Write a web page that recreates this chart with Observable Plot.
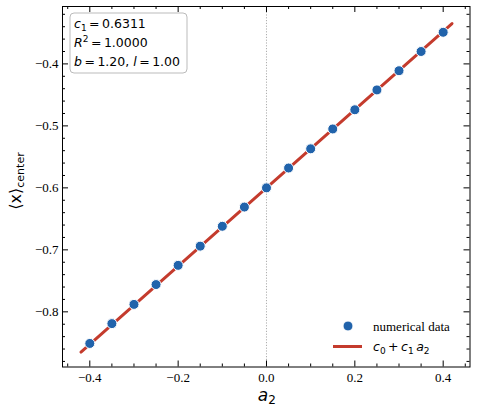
<!DOCTYPE html>
<html><head><meta charset="utf-8">
<script src="https://cdn.jsdelivr.net/npm/d3@7"></script>
<script src="https://cdn.jsdelivr.net/npm/@observablehq/plot@0.6"></script>
<style>body{margin:0;background:#fff} svg{display:block}</style>
</head><body><div id="chart"></div>
<script>
// numerical data
const a2 = [-0.40,-0.35,-0.30,-0.25,-0.20,-0.15,-0.10,-0.05,0.00,0.05,0.10,0.15,0.20,0.25,0.30,0.35,0.40];
const xCenter = [-0.851,-0.819,-0.788,-0.756,-0.725,-0.694,-0.662,-0.631,-0.600,-0.568,-0.537,-0.505,-0.474,-0.442,-0.411,-0.380,-0.349];
// fitted line c0 + c1 a2
const fitA2 = [-0.42, 0.42];
const fitX = [-0.865, -0.335];
// ticks
const xMajor = [-0.4,-0.2,0.0,0.2,0.4];
const xMinor = [-0.45,-0.35,-0.3,-0.25,-0.15,-0.1,-0.05,0.05,0.1,0.15,0.25,0.3,0.35,0.45];
const yMajor = [-0.8,-0.7,-0.6,-0.5,-0.4];
const yMinor = [-0.88,-0.86,-0.84,-0.82,-0.78,-0.76,-0.74,-0.72,-0.68,-0.66,-0.64,-0.62,-0.58,-0.56,-0.54,-0.52,-0.48,-0.46,-0.44,-0.42,-0.38,-0.36,-0.34,-0.32];
const annot = ["0.6311","1.0000","1.20","1.00"];

const W = 477, H = 412, ML = 62, MR = 7.5, MT = 6, MB = 45.5;
const FW = W - ML - MR, FH = H - MT - MB;
const pts = a2.map((x, i) => ({x, y: xCenter[i]}));
const fit = fitA2.map((x, i) => ({x, y: fitX[i]}));
const BLUE = "#2163ab", RED = "#c43b2d";
const SERIF = "Liberation Serif";
const TS = "\u2009"; // thin space

const chart = Plot.plot({
  width: W, height: H,
  marginLeft: ML, marginRight: MR, marginTop: MT, marginBottom: MB,
  style: {fontFamily: SERIF, fontSize: "13px", background: "#fff", color: "#000"},
  x: {domain: [-0.4618, 0.4607]},
  y: {domain: [-0.889, -0.3074]},
  marks: [
    Plot.ruleX([0], {stroke: "#999", strokeWidth: 0.8, strokeDasharray: "1.2,1.6"}),
    Plot.line(fit, {x: "x", y: "y", stroke: RED, strokeWidth: 3}),
    Plot.dot(pts, {x: "x", y: "y", r: 5, fill: BLUE, stroke: "#fff", strokeWidth: 1}),
    Plot.tickX(xMajor, {x: d => d, insetTop: FH - 6, stroke: "#000"}),
    Plot.tickX(xMajor, {x: d => d, insetBottom: FH - 6, stroke: "#000"}),
    Plot.tickX(xMinor, {x: d => d, insetTop: FH - 3, stroke: "#000"}),
    Plot.tickX(xMinor, {x: d => d, insetBottom: FH - 3, stroke: "#000"}),
    Plot.tickY(yMajor, {y: d => d, insetRight: FW - 6, stroke: "#000"}),
    Plot.tickY(yMajor, {y: d => d, insetLeft: FW - 6, stroke: "#000"}),
    Plot.tickY(yMinor, {y: d => d, insetRight: FW - 3, stroke: "#000"}),
    Plot.tickY(yMinor, {y: d => d, insetLeft: FW - 3, stroke: "#000"}),
    Plot.axisX(xMajor, {tickSize: 0, tickPadding: 6, tickFormat: d3.format(".1f"), label: null, fontSize: 13, fontFamily: SERIF}),
    Plot.axisY(yMajor, {tickSize: 0, tickPadding: 4, tickFormat: d3.format(".1f"), label: null, fontSize: 13, fontFamily: SERIF}),
    Plot.frame({stroke: "#000", strokeWidth: 1})
  ]
});
document.getElementById("chart").appendChild(chart);

const svg = d3.select(chart);
const MATH = "DejaVu Sans";

// y label
const yl = svg.append("text").attr("transform", "translate(21,181) rotate(-90)")
  .attr("text-anchor", "middle").attr("font-family", MATH).attr("fill", "#000");
yl.append("tspan").attr("font-size", 16).text("⟨x⟩");
yl.append("tspan").attr("font-size", 11).attr("dy", 3).text("center");

// x label
const xl = svg.append("text").attr("x", ML + FW / 2 + 1).attr("y", 401)
  .attr("text-anchor", "middle").attr("font-family", MATH).attr("fill", "#000");
xl.append("tspan").attr("font-size", 17).attr("font-style", "italic").text("a");
xl.append("tspan").attr("font-size", 12).attr("dy", 3).text("2");

// annotation box
const ag = svg.append("g").attr("font-family", MATH).attr("font-size", 12.5).attr("fill", "#000").attr("text-anchor", "start");
ag.append("rect").attr("x", 70).attr("y", 13).attr("width", 117).attr("height", 60).attr("rx", 4)
  .attr("fill", "#fff").attr("fill-opacity", 0.85).attr("stroke", "#bbb").attr("stroke-width", 1);
const l1 = ag.append("text").attr("x", 74).attr("y", 28);
l1.append("tspan").attr("font-style", "italic").text("c");
l1.append("tspan").attr("font-size", 9).attr("dy", 2.5).text("1");
l1.append("tspan").attr("dy", -2.5).text(TS + "=" + TS + annot[0]);
const l2 = ag.append("text").attr("x", 74).attr("y", 47);
l2.append("tspan").attr("font-style", "italic").text("R");
l2.append("tspan").attr("font-size", 9).attr("dy", -5).text("2");
l2.append("tspan").attr("dy", 5).text(TS + "=" + TS + annot[1]);
const l3 = ag.append("text").attr("x", 74).attr("y", 66);
l3.append("tspan").attr("font-style", "italic").text("b");
l3.append("tspan").text(TS + "=" + TS + annot[2] + ", ");
l3.append("tspan").attr("font-style", "italic").text("l");
l3.append("tspan").text(TS + "=" + TS + annot[3]);

// legend
const lg = svg.append("g").attr("fill", "#000").attr("text-anchor", "start");
lg.append("circle").attr("cx", 348).attr("cy", 326).attr("r", 5).attr("fill", BLUE).attr("stroke", "#fff");
lg.append("text").attr("x", 373).attr("y", 330.5).attr("font-size", 13)
  .attr("font-family", SERIF).text("numerical data");
lg.append("line").attr("x1", 333).attr("x2", 362).attr("y1", 346.5).attr("y2", 346.5)
  .attr("stroke", RED).attr("stroke-width", 3);
const lt = lg.append("text").attr("x", 373).attr("y", 351).attr("font-size", 12.5).attr("font-family", MATH);
lt.append("tspan").attr("font-style", "italic").text("c");
lt.append("tspan").attr("font-size", 9).attr("dy", 2.5).text("0");
lt.append("tspan").attr("dy", -2.5).text(TS + "+" + TS);
lt.append("tspan").attr("font-style", "italic").text("c");
lt.append("tspan").attr("font-size", 9).attr("dy", 2.5).text("1");
lt.append("tspan").attr("dy", -2.5).text(TS);
lt.append("tspan").attr("font-style", "italic").text("a");
lt.append("tspan").attr("font-size", 9).attr("dy", 2.5).text("2");
</script>
</body></html>
